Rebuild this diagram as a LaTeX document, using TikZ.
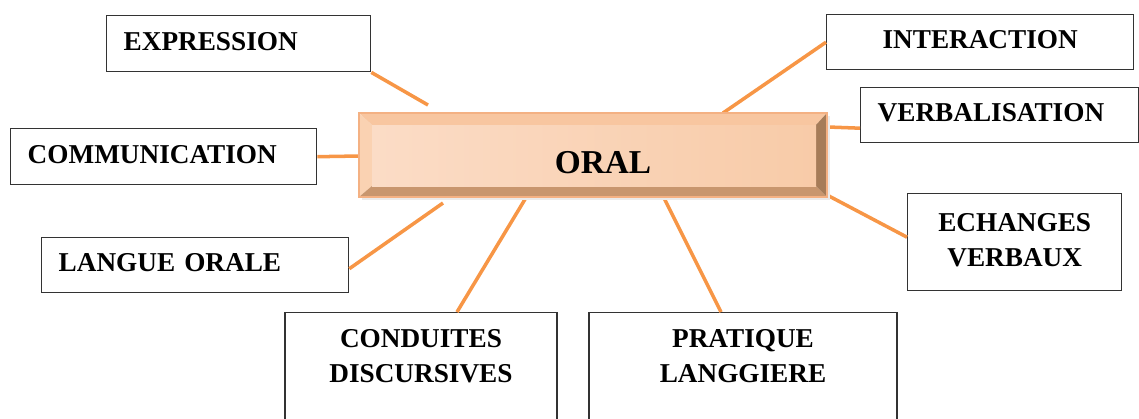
\documentclass[tikz,border=0pt]{standalone}
\usepackage{fontspec}
\setmainfont{Liberation Serif}
\usetikzlibrary{positioning}

\definecolor{linkorange}{HTML}{F79646}
\definecolor{rimedge}{HTML}{F4B183}
\definecolor{rimtop}{HTML}{F8C6A0}
\definecolor{rimleft}{HTML}{FAD2B2}
\definecolor{rimbottom}{HTML}{C8966E}
\definecolor{rimright}{HTML}{A67C58}
\definecolor{facelight}{HTML}{FEEEE4}
\definecolor{faceleft}{HTML}{FBDCC6}
\definecolor{faceright}{HTML}{F8CBA8}

\begin{document}
\begin{tikzpicture}[x=0.02cm,y=-0.02cm,
  box/.style={draw=black!80, line width=0.8pt, inner sep=0pt, fill=white,
    font=\bfseries\fontsize{15.5}{20}\selectfont, text depth=3pt},
  lbox/.style={box, align=left, inner xsep=0.34cm},
  link/.style={draw=linkorange, line width=2pt}]
\useasboundingbox (0,0) rectangle (1139,419);
\clip (0,0) rectangle (1139,419);

% outer boxes
\node (expr) [lbox, anchor=north west, text width=4.6cm, minimum height=1.12cm] at (106,15) {EXPRESSION};
\node (comm) [lbox, anchor=north west, text width=5.44cm, minimum height=1.12cm] at (10,128) {COMMUNICATION};
\node (lang) [lbox, anchor=north west, text width=5.46cm, minimum height=1.1cm] at (41,237) {LANGUE ORALE};
\node (inter) [box, anchor=north west, minimum width=6.14cm, minimum height=1.1cm] at (826,14) {INTERACTION};
\node (verb) [lbox, anchor=north west, text width=4.88cm, minimum height=1.1cm] at (860,87) {VERBALISATION};
\node (ech) [box, align=center, anchor=north west, minimum width=4.28cm, minimum height=1.94cm] at (907,193) {ECHANGES\\VERBAUX};
\node (cond) [box, align=center, anchor=north, minimum width=5.44cm, inner ysep=0.34cm, text depth=3cm] at (421,312) {CONDUITES\\DISCURSIVES};
\node (prat) [box, align=center, anchor=north, minimum width=6.16cm, inner ysep=0.34cm, text depth=3cm] at (743,312) {PRATIQUE\\LANGGIERE};

% free ends near the centre box
\coordinate (oExpr) at (428,105);
\coordinate (oComm) at (360,156);
\coordinate (oLang) at (443,203);
\coordinate (oInter) at (723,113);
\coordinate (oVerb) at (828,127);
\coordinate (oEch) at (827,195);
\coordinate (oCond) at (527,196);
\coordinate (oPrat) at (663,196);

\draw[link] (expr.south east) -- (oExpr);
\draw[link] (comm.east) -- (oComm);
\draw[link] ([yshift=-0.07cm]lang.east) -- (oLang);
\draw[link] (inter.west) -- (oInter);
\draw[link] ([yshift=-0.26cm]verb.west) -- (oVerb);
\draw[link] ([yshift=0.1cm]ech.west) -- (oEch);
\draw[link] ([xshift=0.72cm]cond.north) -- (oCond);
\draw[link] ([xshift=-0.44cm]prat.north) -- (oPrat);

% bevelled centre box
\fill[black!8] (362,116) rectangle (830,200);
\fill[rimtop] (359,113) -- (827,113) -- (816,125) -- (372,125) -- cycle;
\fill[rimleft] (359,113) -- (372,125) -- (372,186) -- (359,197) -- cycle;
\fill[rimbottom] (359,197) -- (372,186) -- (816,186) -- (827,197) -- cycle;
\fill[rimright] (827,113) -- (816,125) -- (816,186) -- (827,197) -- cycle;
\shade[left color=faceleft, middle color=facelight, right color=faceright] (372,125) rectangle (816,186);
\draw[rimedge, line width=0.6pt] (359,113) rectangle (827,197);
\node (oral) [font=\bfseries\fontsize{19}{22}\selectfont] at (603,163) {ORAL};
\end{tikzpicture}
\end{document}
